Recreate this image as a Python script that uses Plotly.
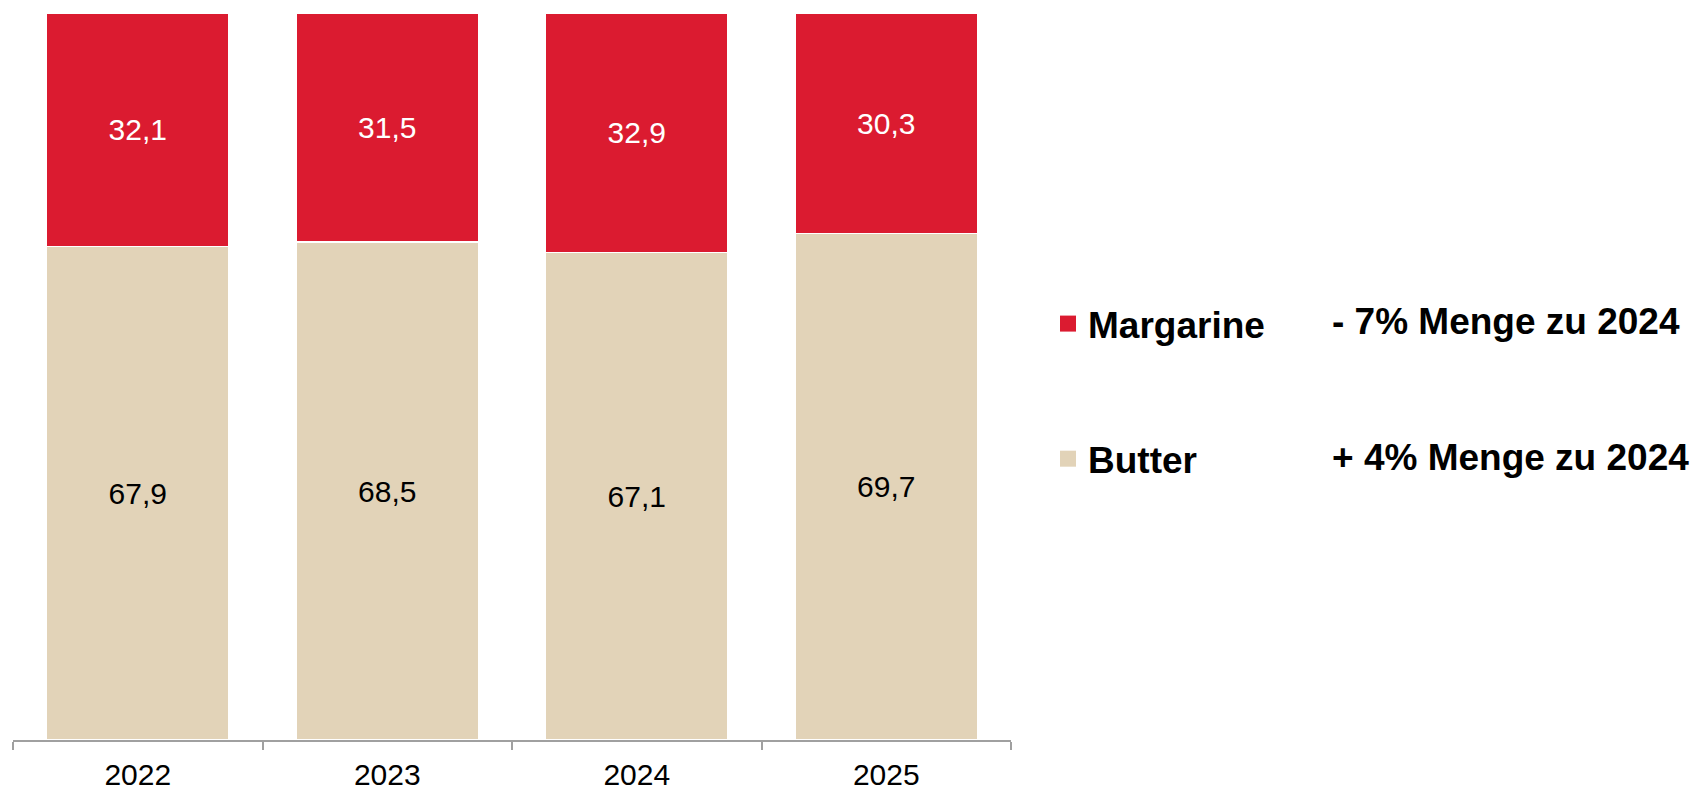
import plotly.graph_objects as go

years = ["2022", "2023", "2024", "2025"]
butter = [67.9, 68.5, 67.1, 69.7]
margarine = [32.1, 31.5, 32.9, 30.3]
series_names = ["Margarine", "Butter"]
notes = ["- 7% Menge zu 2024", "+ 4% Menge zu 2024"]

RED = "#DB1B30"
BEIGE = "#E2D3B8"
FONT = "Liberation Sans, Arial, sans-serif"

fig = go.Figure()
fig.add_trace(go.Bar(
    x=years, y=butter, name="Butter", marker=dict(color=BEIGE, line=dict(color="white", width=1.2)),
    texttemplate="%{y:.1f}", textposition="inside", insidetextanchor="middle", textangle=0,
    textfont=dict(family=FONT, size=30, color="black"), showlegend=False, hoverinfo="skip",
))
fig.add_trace(go.Bar(
    x=years, y=margarine, name="Margarine", marker=dict(color=RED, line=dict(color="white", width=1.2)),
    texttemplate="%{y:.1f}", textposition="inside", insidetextanchor="middle", textangle=0,
    textfont=dict(family=FONT, size=30, color="white"), showlegend=False, hoverinfo="skip",
))
# legend proxies
for nm, col in zip(series_names, [RED, BEIGE]):
    fig.add_trace(go.Scatter(
        x=[None], y=[None], mode="markers", name=nm, legendgroup=nm,
        marker=dict(symbol="square", size=18, color=col),
    ))

note_y = [0.5757, 0.3886]
for t, yy in zip(notes, note_y):
    fig.add_annotation(text=t, xref="paper", yref="paper", x=1.3197, y=yy,
                       xanchor="left", yanchor="middle", showarrow=False,
                       font=dict(family=FONT, size=37, color="black", weight="bold"))

fig.update_layout(
    width=1690, height=782,
    margin=dict(l=5, r=687, t=5, b=50, autoexpand=False),
    barmode="stack", bargap=0.27,
    separators=",.",
    plot_bgcolor="white", paper_bgcolor="white",
    legend=dict(
        xref="container", yref="container", x=0.6154, y=0.6355,
        xanchor="left", yanchor="top", traceorder="grouped", tracegroupgap=84,
        font=dict(family=FONT, size=37, color="black", weight="bold"),
        bgcolor="rgba(0,0,0,0)", itemwidth=30,
    ),
    xaxis=dict(
        type="category", range=[-0.5, 3.5], showline=True, linecolor="#A0A0A0", linewidth=1.5,
        ticks="outside", tickson="boundaries", ticklen=8, tickcolor="#A0A0A0", tickwidth=1.5,
        ticklabelstandoff=7, automargin=False,
        tickfont=dict(family=FONT, size=30, color="black"), showgrid=False, fixedrange=True,
    ),
    yaxis=dict(range=[0, 100], visible=False, showgrid=False, fixedrange=True, automargin=False),
)

fig.write_html("out.html")
